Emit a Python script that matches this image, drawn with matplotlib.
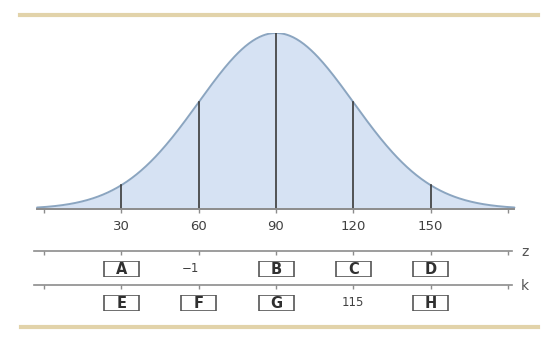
import numpy as np
import matplotlib
matplotlib.use("Agg")
import matplotlib.pyplot as plt
from matplotlib.patches import Rectangle

# ── Data ───────────────────────────────────────────────────────────────────────
mean, sd = 90, 30
x_ticks = [0, 30, 60, 90, 120, 150, 180]
x_labels = ["", "30", "60", "90", "120", "150", ""]
marked = [30, 60, 90, 120, 150]

z_boxes = {30: "A", 90: "B", 120: "C", 150: "D"}
z_values = {60: "\u22121"}
k_boxes = {30: "E", 60: "F", 90: "G", 150: "H"}
k_values = {120: "115"}

curve_lo, curve_hi = -2.7, 182.5

# ── Style ──────────────────────────────────────────────────────────────────────
FILL = "#d6e2f3"
EDGE = "#8ba5c0"
VLINE = "#3a3a3a"
AXIS = "#8c8c8c"
TAN = "#e2d3aa"
TEXT = "#404040"

W, H = 560, 351
fig = plt.figure(figsize=(W / 100, H / 100), dpi=100)

# pixel → data mapping: x=0 at 44 px, x=180 at 508 px
px_per_unit = (508 - 44) / 180
xlim = (-44 / px_per_unit, (W - 44) / px_per_unit)

def fy(py):
    return (H - py) / H

# ── Main curve axes ───────────────────────────────────────────────────────────
base_py, peak_py = 209, 33
ax = fig.add_axes([0, fy(base_py), 1, (base_py - peak_py) / H])
pdf = lambda v: np.exp(-0.5 * ((v - mean) / sd) ** 2)
xs = np.linspace(curve_lo, curve_hi, 400)
ax.fill_between(xs, 0, pdf(xs), color=FILL, lw=0)
ax.plot(xs, pdf(xs), color=EDGE, lw=1.4, solid_capstyle="round")
for m in marked:
    ax.plot([m, m], [0, pdf(m)], color=VLINE, lw=1.2)
ax.set_xlim(*xlim)
ax.set_ylim(0, 1.0)
for s in ["top", "left", "right"]:
    ax.spines[s].set_visible(False)
ax.spines["bottom"].set_bounds(curve_lo, curve_hi)
ax.spines["bottom"].set_color(AXIS)
ax.spines["bottom"].set_linewidth(1.4)
ax.set_yticks([])
ax.set_xticks(x_ticks)
ax.set_xticklabels(x_labels)
ax.tick_params(axis="x", direction="out", length=3, width=1, color=AXIS,
               labelsize=9.5, labelcolor=TEXT, pad=5)
ax.patch.set_alpha(0)

# ── Secondary z / k axes ──────────────────────────────────────────────────────
def scale_axis(py, label, boxes, values):
    a = fig.add_axes([0, fy(py) - 0.06, 1, 0.06])
    a.set_xlim(*xlim)
    a.set_ylim(0, 1)
    a.patch.set_alpha(0)
    for s in ["bottom", "left", "right"]:
        a.spines[s].set_visible(False)
    a.spines["top"].set_bounds(-3.8, 181.5)
    a.spines["top"].set_color(AXIS)
    a.spines["top"].set_linewidth(1.2)
    a.set_yticks([])
    a.xaxis.set_ticks_position("top")
    a.set_xticks(x_ticks)
    a.set_xticklabels([])
    a.tick_params(axis="x", direction="in", length=3, width=1, color=AXIS)
    a.text(1.0, 1.0, "", transform=a.transAxes)
    fig.text((W - 35 + 0) / W, fy(py + 1), label, ha="center", va="center",
             fontsize=10, color="#555555")
    # boxes, row centre 18 px below the line
    row_py = py + 18
    bw = 35 / px_per_unit
    for v, t in boxes.items():
        bx = fig.add_axes([0, fy(row_py + 8), 1, 16 / H])
        bx.set_xlim(*xlim)
        bx.set_ylim(0, 1)
        bx.axis("off")
        bx.add_patch(Rectangle((v - bw / 2, 0), bw, 1, fill=False,
                               edgecolor="#555555", lw=1.2))
        bx.text(v, 0.45, t, ha="center", va="center", fontsize=10.5,
                fontweight="bold", color="#303030")
    for v, t in values.items():
        fig.text((44 + v * px_per_unit) / W, fy(row_py), t, ha="right" if t.startswith("\u2212") else "center",
                 va="center", fontsize=8.5, color=TEXT)

scale_axis(251, "z", z_boxes, z_values)
scale_axis(285, "k", k_boxes, k_values)

# ── Decorative tan rules ──────────────────────────────────────────────────────
fig.add_artist(plt.Line2D([20 / W, 538 / W], [fy(15), fy(15)], color=TAN,
                          lw=3, transform=fig.transFigure))
fig.add_artist(plt.Line2D([21 / W, 538 / W], [fy(327), fy(327)], color=TAN,
                          lw=3, transform=fig.transFigure))

fig.savefig("out.png", dpi=100)
